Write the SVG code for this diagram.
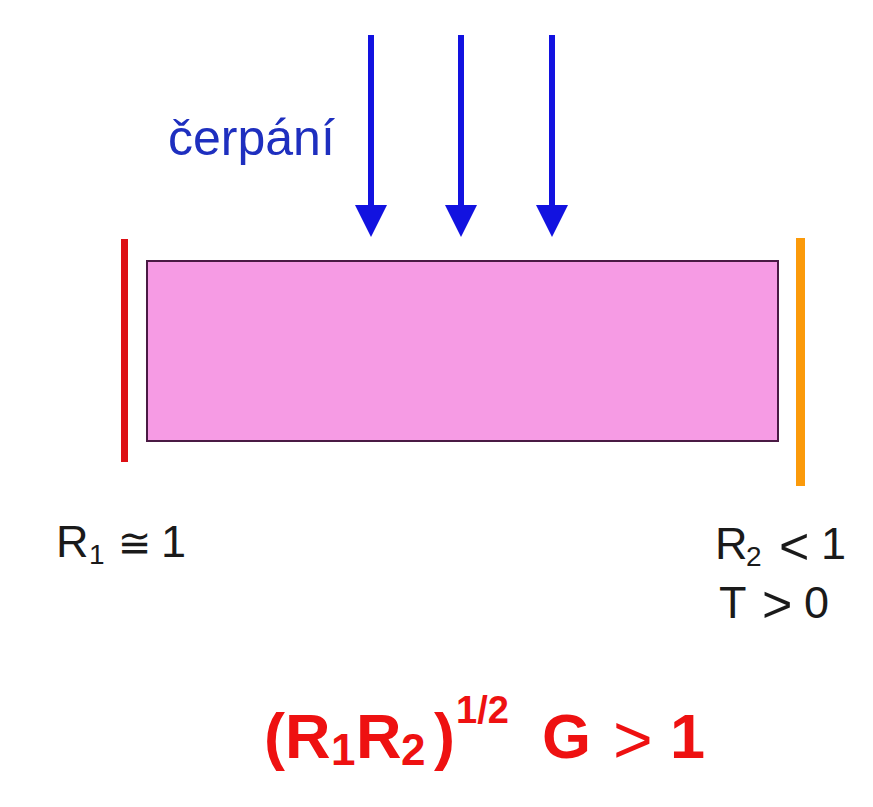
<svg xmlns="http://www.w3.org/2000/svg" width="873" height="807" viewBox="0 0 873 807">
<defs>
<style>
.t{font-family:"Liberation Sans",Arial,sans-serif;fill:#1a1a1a;}
.f{font-family:"Liberation Sans",Arial,sans-serif;fill:#ee1111;font-weight:bold;}
.shaft{stroke:#1212e0;stroke-width:6;fill:none;}
.head{fill:#1212e0;}
</style>
</defs>
<rect width="873" height="807" fill="#ffffff"/>
<g id="medium">
<rect x="147" y="261" width="631" height="180" fill="#f69be4" stroke="#4a1a44" stroke-width="2"/>
</g>
<g id="mirror1">
<rect x="121" y="239" width="7" height="223" fill="#dd0f14"/>
</g>
<g id="mirror2">
<rect x="796" y="238" width="9" height="248" fill="#fb9a0a"/>
</g>
<g id="pump-label">
<text class="t" x="168" y="155" font-size="50" style="fill:#1e2fbf">čerpání</text>
</g>
<g id="connectors">
<line class="shaft" x1="371" y1="35" x2="371" y2="208"/>
<polygon class="head" points="355,205 387,205 371,237"/>
<line class="shaft" x1="461" y1="35" x2="461" y2="208"/>
<polygon class="head" points="445,205 477,205 461,237"/>
<line class="shaft" x1="552" y1="35" x2="552" y2="208"/>
<polygon class="head" points="536,205 568,205 552,237"/>
</g>
<g id="label-r1">
<text class="t" font-size="45" y="557"><tspan x="56">R</tspan><tspan x="89" y="564" font-size="28">1</tspan><tspan x="118" y="557" font-family="DejaVu Sans" font-size="40">≅</tspan><tspan x="161" y="557">1</tspan></text>
</g>
<g id="label-r2">
<text class="t" font-size="45" y="559"><tspan x="715">R</tspan><tspan x="746" y="566" font-size="28">2</tspan><tspan x="779" y="564" font-size="52">&lt;</tspan><tspan x="821" y="559">1</tspan></text>
<text class="t" font-size="45" y="618"><tspan x="719">T</tspan><tspan x="762" y="622" font-size="52">&gt;</tspan><tspan x="804" y="618">0</tspan></text>
</g>
<g id="condition">
<text class="f" font-size="63" y="758"><tspan x="264">(</tspan><tspan x="285">R</tspan><tspan x="331" y="765" font-size="44">1</tspan><tspan x="356" y="758">R</tspan><tspan x="401" y="765" font-size="44">2</tspan><tspan x="434" y="758">)</tspan><tspan x="456" y="723" font-size="38">1/2</tspan><tspan x="542" y="758">G</tspan><tspan x="613" y="763" font-weight="normal" font-size="68">&gt;</tspan><tspan x="670" y="758">1</tspan></text>
</g>
</svg>
